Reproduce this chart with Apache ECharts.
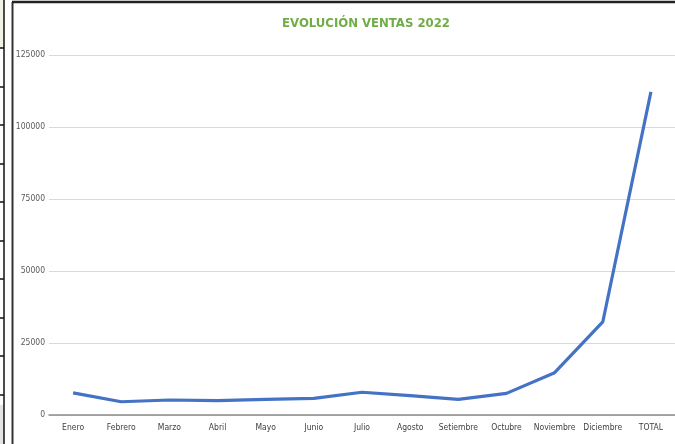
<!DOCTYPE html>
<html>
<head>
<meta charset="utf-8">
<script src="https://cdn.jsdelivr.net/npm/echarts@6/dist/echarts.min.js"></script>
<style>
  html, body { margin: 0; padding: 0; background: #ffffff; }
  #chart { width: 675px; height: 444px; }
</style>
</head>
<body>
<div id="chart"></div>
<script>
// Monthly sales for 2022 plus the yearly total
const categories = ['Enero', 'Febrero', 'Marzo', 'Abril', 'Mayo', 'Junio', 'Julio',
  'Agosto', 'Setiembre', 'Octubre', 'Noviembre', 'Diciembre', 'TOTAL'];
const ventas = [7700, 4600, 5200, 5000, 5400, 5800, 7900, 6700, 5400, 7500, 14700, 32300, 112200];
const yTicks = [0, 25000, 50000, 75000, 100000, 125000];

const FONT = '"DejaVu Sans Condensed", "Liberation Sans Narrow", "Liberation Sans", sans-serif';

// spreadsheet row borders visible to the left of the chart
const rowLines = [48, 87, 125, 164, 202, 241, 279, 318, 356, 395];
const sheetGraphics = [
  { type: 'rect', shape: { x: 0, y: 0, width: 4, height: 48 }, style: { fill: '#eef3e6' }, silent: true },
  { type: 'rect', shape: { x: 0, y: 405, width: 4, height: 39 }, style: { fill: '#e4e4e4' }, silent: true },
  { type: 'line', shape: { x1: 4, y1: 0, x2: 4, y2: 444 }, style: { stroke: '#111', lineWidth: 1.5 }, silent: true },
  // chart frame
  { type: 'line', shape: { x1: 12.5, y1: 2, x2: 12.5, y2: 444 }, style: { stroke: '#333', lineWidth: 2 }, silent: true },
  { type: 'line', shape: { x1: 12, y1: 2, x2: 675, y2: 2 }, style: { stroke: '#222', lineWidth: 2.5 }, silent: true }
];
rowLines.forEach(function (y) {
  sheetGraphics.push({ type: 'line', shape: { x1: 0, y1: y, x2: 4, y2: y }, style: { stroke: '#111', lineWidth: 1.5 }, silent: true });
});

const chart = echarts.init(document.getElementById('chart'), null, { renderer: 'canvas' });
chart.setOption({
  backgroundColor: '#ffffff',
  animation: false,
  title: {
    text: 'EVOLUCIÓN VENTAS 2022',
    left: 361,
    textAlign: 'center',
    top: 12,
    textStyle: { color: '#70AD47', fontSize: 13, fontWeight: 'bold', fontFamily: FONT }
  },
  graphic: sheetGraphics,
  grid: { left: 49, top: 55, width: 627, bottom: 29, containLabel: false },
  xAxis: {
    type: 'category',
    data: categories,
    boundaryGap: true,
    axisLine: { lineStyle: { color: '#8c8c8c', width: 1.5 } },
    axisTick: { show: false },
    axisLabel: { color: '#404040', fontSize: 8.5, fontFamily: FONT, margin: 8, interval: 0 },
    splitLine: { show: false }
  },
  yAxis: {
    type: 'value',
    min: yTicks[0],
    max: yTicks[yTicks.length - 1],
    interval: yTicks[1] - yTicks[0],
    axisLine: { show: false },
    axisTick: { show: false },
    axisLabel: {
      color: '#595959', fontSize: 8.5, fontFamily: FONT, margin: 4,
      formatter: function (v) { return String(v); }
    },
    splitLine: { lineStyle: { color: '#d9d9d9', width: 1 } }
  },
  series: [{
    type: 'line',
    data: ventas,
    symbol: 'none',
    lineStyle: { color: '#4472C4', width: 3.2 },
    itemStyle: { color: '#4472C4' }
  }]
});
</script>
</body>
</html>
